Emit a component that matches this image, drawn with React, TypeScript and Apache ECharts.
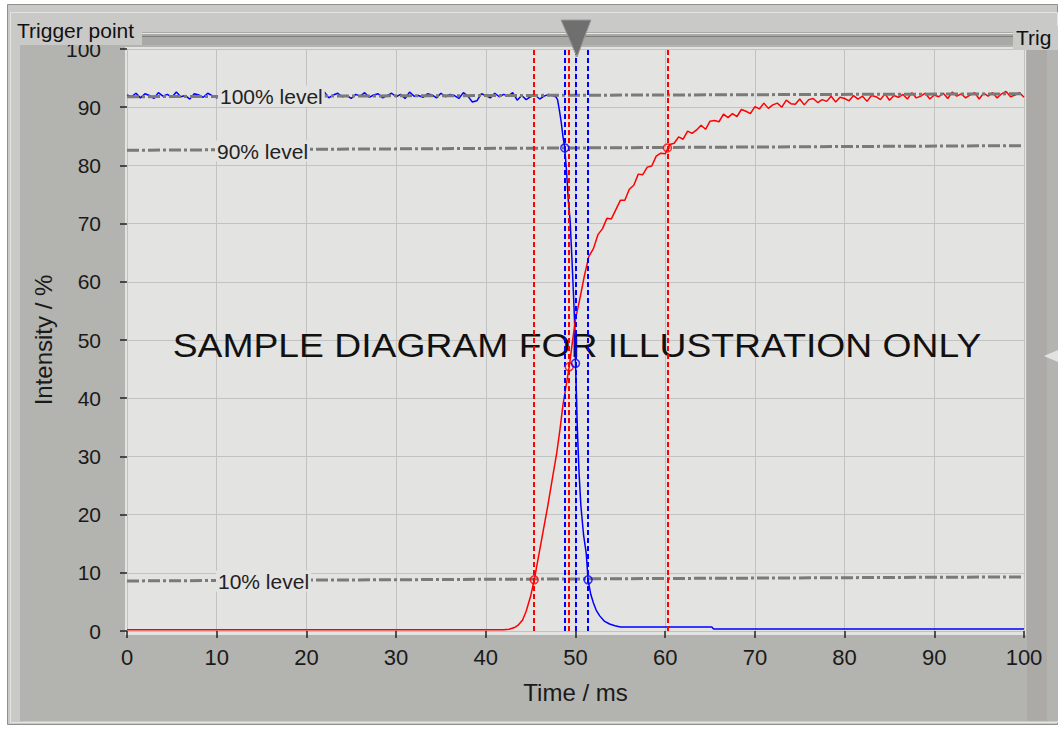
import React, { useEffect, useRef } from "react";
import * as echarts from "echarts";

// ---------- data ----------
const xTickValues = [0, 10, 20, 30, 40, 50, 60, 70, 80, 90, 100];

// blue trace: plateau samples every 0.5 ms from 0 ms
const bluePlateauStep = 0.5;
const bluePlateau = [
  92.1, 91.8, 92.4, 91.6, 92.3, 92.0, 91.5, 92.5, 91.9, 92.2, 91.7, 92.6, 91.8, 92.0, 91.4, 92.3, 92.1, 91.7, 92.4, 92.0,
  91.6, 92.5, 91.9, 92.2, 91.5, 92.3, 92.0, 91.8, 92.6, 91.7, 92.1, 91.9, 92.4, 91.6, 92.2, 92.0, 91.5, 92.3, 91.8, 92.5,
  92.0, 91.7, 92.3, 91.9, 92.6, 91.6, 92.1, 92.4, 91.8, 92.0, 91.5, 92.2, 91.9, 92.5, 91.7, 92.1, 92.3, 91.6, 92.0, 92.4,
  91.8, 92.2, 91.5, 92.6, 91.9, 92.0, 91.7, 92.3, 92.1, 91.6, 92.4, 91.8, 92.2, 92.0, 91.5, 92.5, 91.9, 90.9, 91.1, 92.3,
  92.0, 91.6, 92.4, 91.8, 92.2, 91.9, 92.5, 91.2, 92.0, 91.3, 91.8, 92.1, 91.4, 91.9, 92.2, 92.0,
];
const blueDrop: [number, number][] = [
  [47.8, 91.8], [48.0, 91.3], [48.2, 89.5], [48.4, 87.5], [48.6, 85.0], [48.8, 83.0], [49.0, 79.0],
  [49.2, 74.0], [49.4, 70.5], [49.6, 64.0], [49.8, 57.0], [49.9, 53.0], [50.0, 46.0], [50.1, 41.0],
  [50.2, 35.0], [50.4, 27.0], [50.6, 21.5], [50.9, 16.5], [51.2, 13.3], [51.4, 8.8], [51.7, 6.3],
  [52.0, 4.8], [52.3, 3.6], [52.7, 2.6], [53.2, 1.7], [53.8, 1.2], [54.4, 0.9], [55.0, 0.7],
  [65.2, 0.7], [65.4, 0.35], [100, 0.35],
];

// red trace: baseline and rise, then samples every 0.5 ms from 50 ms
const redRise: [number, number][] = [
  [0, 0.2], [42.0, 0.2], [42.6, 0.3], [43.2, 0.6], [43.6, 1.0], [44.1, 1.9], [44.5, 3.4], [45.0, 6.0],
  [45.4, 8.8], [45.9, 13.0], [46.4, 17.2], [46.9, 21.4], [47.4, 26.0], [47.9, 30.5], [48.3, 35.0],
  [48.6, 38.8], [49.0, 42.6], [49.3, 45.4], [49.6, 49.0],
];
const redTailStart = 50;
const redTailStep = 0.5;
const redTail = [
  53.6, 57.2, 61.1, 64.4, 65.7, 68.1, 69.1, 70.9, 70.8, 72.4, 74.0, 74.0, 75.9, 76.6, 78.5, 78.4, 79.7, 79.9, 81.6, 82.1,
  82.0, 83.6, 83.8, 84.9, 84.5, 85.9, 85.5, 86.1, 86.9, 86.2, 87.6, 87.7, 87.5, 88.8, 88.2, 88.9, 88.4, 89.6, 89.3, 88.9,
  90.1, 89.7, 90.7, 89.8, 90.4, 90.7, 90.0, 91.2, 90.6, 90.5, 91.4, 90.4, 91.3, 91.5, 90.8, 91.3, 91.0, 91.9, 90.9, 91.7,
  91.5, 91.1, 92.0, 91.4, 91.9, 91.0, 92.0, 91.8, 91.3, 92.3, 91.2, 92.0, 91.7, 92.2, 91.4, 92.5, 91.6, 91.9, 92.4, 91.4,
  92.1, 91.8, 92.4, 91.5, 92.6, 91.9, 92.3, 91.6, 92.1, 92.5, 91.4, 92.4, 91.9, 92.5, 91.6, 92.3, 92.7, 91.8, 92.1, 92.5,
  91.7,
];

// reference levels (slightly sloped as measured)
const level100: [number, number][] = [[0, 91.8], [100, 92.3]];
const level90: [number, number][] = [[0, 82.6], [100, 83.4]];
const level10: [number, number][] = [[0, 8.6], [100, 9.3]];

// crossing markers and cursors
const redMarkers: [number, number][] = [[45.4, 8.8], [49.3, 45.4], [60.25, 83.0]];
const blueMarkers: [number, number][] = [[48.8, 83.0], [50.0, 46.0], [51.4, 8.8]];
const redCursors = [45.4, 49.3, 60.25];
const blueCursors = [48.8, 50.0, 51.4];

const levelLabels = ["100% level", "90% level", "10% level"];

// ---------- build ----------
const blueData: [number, number][] = [
  ...bluePlateau.map((v, i) => [i * bluePlateauStep, v] as [number, number]),
  ...blueDrop,
];
const redData: [number, number][] = [
  ...redRise,
  ...redTail.map((v, i) => [redTailStart + i * redTailStep, v] as [number, number]),
];

const FONT = "'Liberation Sans', Arial, sans-serif";
const NARROW = "'Liberation Sans Narrow', 'Arial Narrow', 'Liberation Sans', sans-serif";
const TEXT = "#1a1a1a";
const PLOT_BG = "#e3e3e1";
const OUTER = "#c9c9c7";
const LEVEL = "#7a7a7a";

function levelSeries(name: string, data: [number, number][]) {
  return {
    name,
    type: "line",
    data,
    showSymbol: false,
    silent: true,
    z: 3,
    lineStyle: { color: LEVEL, width: 3, type: [12, 3, 3, 3] },
  };
}

function markerSeries(name: string, data: [number, number][], cursors: number[], color: string) {
  return {
    name,
    type: "scatter",
    data,
    symbol: "circle",
    symbolSize: 8,
    z: 5,
    itemStyle: { color: "rgba(0,0,0,0)", borderColor: color, borderWidth: 1.5 },
    markLine: {
      silent: true,
      symbol: "none",
      label: { show: false },
      lineStyle: { color, width: 2, type: [5, 3] },
      data: cursors.map((x) => ({ xAxis: x })),
    },
  };
}

const option: any = {
  animation: false,
  backgroundColor: "#ffffff",
  grid: { left: 127, right: 34, top: 49, bottom: 98, containLabel: false, outerBoundsMode: "none" },
  xAxis: {
    type: "value",
    min: xTickValues[0],
    max: xTickValues[xTickValues.length - 1],
    interval: 10,
    offset: 5,
    axisLine: { show: false },
    axisTick: { show: true, length: 7, lineStyle: { color: "#222", width: 1.5 } },
    axisLabel: { fontSize: 22, color: TEXT, fontFamily: FONT, margin: 10 },
    splitLine: { show: true, lineStyle: { color: "#c2c2c2", width: 1 } },
    name: "Time / ms",
    nameLocation: "middle",
    nameGap: 44,
    nameTextStyle: { fontSize: 24, color: TEXT, fontFamily: FONT },
  },
  yAxis: {
    type: "value",
    min: 0,
    max: 100,
    interval: 10,
    offset: 5,
    axisLine: { show: false },
    axisTick: { show: true, length: 7, lineStyle: { color: "#222", width: 1.5 } },
    axisLabel: { fontSize: 21, color: TEXT, fontFamily: NARROW, margin: 21 },
    splitLine: { show: true, lineStyle: { color: "#c2c2c2", width: 1 } },
    name: "Intensity / %",
    nameLocation: "middle",
    nameGap: 63,
    nameTextStyle: { fontSize: 24, color: TEXT, fontFamily: FONT },
  },
  graphic: [
    { type: "rect", z: -20, shape: { x: 7.5, y: 4.5, width: 1050, height: 720 }, style: { fill: OUTER, stroke: "#8f8f8f", lineWidth: 1 } },
    { type: "rect", z: -19, shape: { x: 10.5, y: 12.5, width: 1047, height: 710 }, style: { fill: "none", stroke: "#e4e4e2", lineWidth: 1 } },
    { type: "rect", z: -18, shape: { x: 20, y: 45, width: 1038, height: 676 }, style: { fill: "#b3b3af" } },
    { type: "rect", z: -17, shape: { x: 1027, y: 48, width: 20, height: 673 }, style: { fill: "#abaaa6" } },
    { type: "polygon", z: -16, shape: { points: [[1058, 350], [1044, 356], [1058, 362]] }, style: { fill: "#e2e2e2" } },
    { type: "rect", z: -15, shape: { x: 125, y: 47, width: 901, height: 588 }, style: { fill: PLOT_BG } },
    // slider track
    { type: "rect", z: 50, shape: { x: 142, y: 32, width: 872, height: 13 }, style: { fill: "#a9a9a5" } },
    { type: "line", z: 51, shape: { x1: 142, y1: 33.5, x2: 1014, y2: 33.5 }, style: { stroke: "#e8e8e8", lineWidth: 1 } },
    { type: "line", z: 51, shape: { x1: 142, y1: 36.5, x2: 1014, y2: 36.5 }, style: { stroke: "#7e7e7e", lineWidth: 1 } },
    // Trigger point box
    { type: "rect", z: 60, shape: { x: 14, y: 18, width: 128, height: 27 }, style: { fill: OUTER } },
    { type: "text", z: 61, x: 17, y: 30, style: { text: "Trigger point", fontSize: 21, fontFamily: FONT, fill: "#111", verticalAlign: "middle" } },
    { type: "rect", z: 60, shape: { x: 1013, y: 26, width: 45, height: 24 }, style: { fill: OUTER } },
    { type: "text", z: 61, x: 1016, y: 37, style: { text: "Trig", fontSize: 21, fontFamily: FONT, fill: "#111", verticalAlign: "middle" } },
    { type: "polygon", z: 62, shape: { points: [[561, 20], [591, 20], [577, 57]] }, style: { fill: "#6f6f6f", stroke: "#9a9a9a", lineWidth: 1 } },
    // watermark
    {
      type: "text", z: 1, x: 577, y: 345, scaleX: 1.13, scaleY: 1,
      style: { text: "SAMPLE DIAGRAM FOR ILLUSTRATION ONLY", fontSize: 33, fontFamily: FONT, fill: "#111", align: "center", verticalAlign: "middle" },
    },
    // level labels
    { type: "text", z: 20, x: 218, y: 96, style: { text: levelLabels[0], fontSize: 21, fontFamily: FONT, fill: "#222", verticalAlign: "middle", backgroundColor: PLOT_BG, padding: [0, 2] } },
    { type: "text", z: 20, x: 215, y: 151, style: { text: levelLabels[1], fontSize: 21, fontFamily: FONT, fill: "#222", verticalAlign: "middle", backgroundColor: PLOT_BG, padding: [0, 2] } },
    { type: "text", z: 20, x: 216, y: 581, style: { text: levelLabels[2], fontSize: 21, fontFamily: FONT, fill: "#222", verticalAlign: "middle", backgroundColor: PLOT_BG, padding: [0, 2] } },
  ],
  series: [
    {
      name: "Blue",
      type: "line",
      data: blueData,
      showSymbol: false,
      z: 2,
      lineStyle: { color: "#0000ff", width: 1.5 },
    },
    {
      name: "Red",
      type: "line",
      data: redData,
      showSymbol: false,
      z: 2,
      lineStyle: { color: "#ff0000", width: 1.5 },
    },
    levelSeries("100% level", level100),
    levelSeries("90% level", level90),
    levelSeries("10% level", level10),
    markerSeries("Red crossings", redMarkers, redCursors, "#ff0000"),
    markerSeries("Blue crossings", blueMarkers, blueCursors, "#0000ff"),
  ],
};

export default function App() {
  const ref = useRef<HTMLDivElement>(null);
  useEffect(() => {
    if (!ref.current) return;
    const chart = echarts.init(ref.current, null, { renderer: "svg" });
    chart.setOption(option);
    return () => chart.dispose();
  }, []);
  return <div ref={ref} style={{ position: "absolute", left: 0, top: 0, width: 1058, height: 729 }} />;
}
